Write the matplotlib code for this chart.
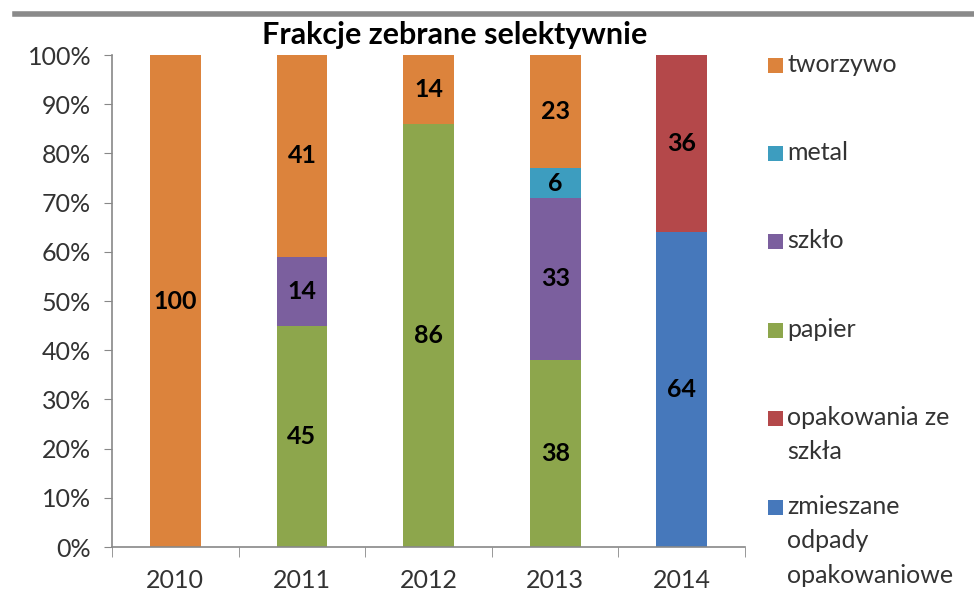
import matplotlib
matplotlib.use("Agg")
import matplotlib.pyplot as plt
from matplotlib.patches import Rectangle
from matplotlib.lines import Line2D
import numpy as np

years = ["2010", "2011", "2012", "2013", "2014"]
# stacking order bottom -> top
series_names = ["zmieszane\nodpady\nopakowaniowe", "opakowania ze\nszkła", "papier", "szkło", "metal", "tworzywo"]
zmieszane = [0, 0, 0, 0, 64]
opak_szkla = [0, 0, 0, 0, 36]
papier = [0, 45, 86, 38, 0]
szklo = [0, 14, 0, 33, 0]
metal = [0, 0, 0, 6, 0]
tworzywo = [100, 41, 14, 23, 0]
colors = ["#4678BB", "#B4484A", "#8DA64C", "#7B5F9E", "#3D9DBF", "#DC833C"]
yticks = [0, 10, 20, 30, 40, 50, 60, 70, 80, 90, 100]

series = [zmieszane, opak_szkla, papier, szklo, metal, tworzywo]

plt.rcParams['font.family'] = ['Lato', 'DejaVu Sans']
fig = plt.figure(figsize=(9.74, 5.97), dpi=100)
ax = fig.add_axes([0.115, 0.0837, 0.65, 0.824])

x = np.arange(len(years))
bottom = np.zeros(len(years))
for vals, c in zip(series, colors):
    v = np.array(vals, dtype=float)
    ax.bar(x, v, 0.4, bottom=bottom, color=c, linewidth=0)
    for xi, vi, bi in zip(x, v, bottom):
        if vi > 0:
            ax.text(xi, bi + vi / 2, f"{int(vi)}", ha="center", va="center",
                    fontsize=18, fontweight="bold", color="black")
    bottom += v

ax.set_xlim(-0.5, len(years) - 0.5)
ax.set_ylim(0, 100)
ax.set_yticks(yticks)
ax.set_yticklabels([f"{t}%" for t in yticks], fontsize=18, color="#333333")
ax.set_xticks(x)
ax.set_xticklabels(years, fontsize=18, color="#333333")
ax.set_xticks(np.arange(-0.5, len(years), 1.0), minor=True)
ax.tick_params(axis="x", which="major", length=0, pad=16)
ax.tick_params(axis="x", which="minor", length=7, color="#888888", direction="out")
ax.tick_params(axis="y", length=6, color="#888888", direction="out", pad=9)
for s in ["top", "right"]:
    ax.spines[s].set_visible(False)
for s in ["left", "bottom"]:
    ax.spines[s].set_color("#888888")
    ax.spines[s].set_linewidth(1.2)

fig.text(0.467, 0.941, "Frakcje zebrane selektywnie", ha="center", va="center",
         fontsize=22, fontweight="bold", color="black")

# top grey rule
fig.add_artist(Line2D([0.015, 1.0], [0.977, 0.977], transform=fig.transFigure,
                      color="#8a8a8a", linewidth=4))

# legend (top -> bottom reversed)
legend_y = [65, 153, 241, 330, 418, 507]
leg_items = list(zip(series_names, colors))[::-1]
W, H = 974, 597
for (name, c), yp in zip(leg_items, legend_y):
    fig.add_artist(Rectangle((768 / W, 1 - (yp + 8) / H), 15 / W, 15 / H,
                             transform=fig.transFigure, color=c, linewidth=0))
    fig.text(787 / W, 1 - (yp - 12) / H, name, ha="left", va="top",
             fontsize=18, color="#333333", linespacing=1.6)

fig.savefig("out.png", dpi=100)
